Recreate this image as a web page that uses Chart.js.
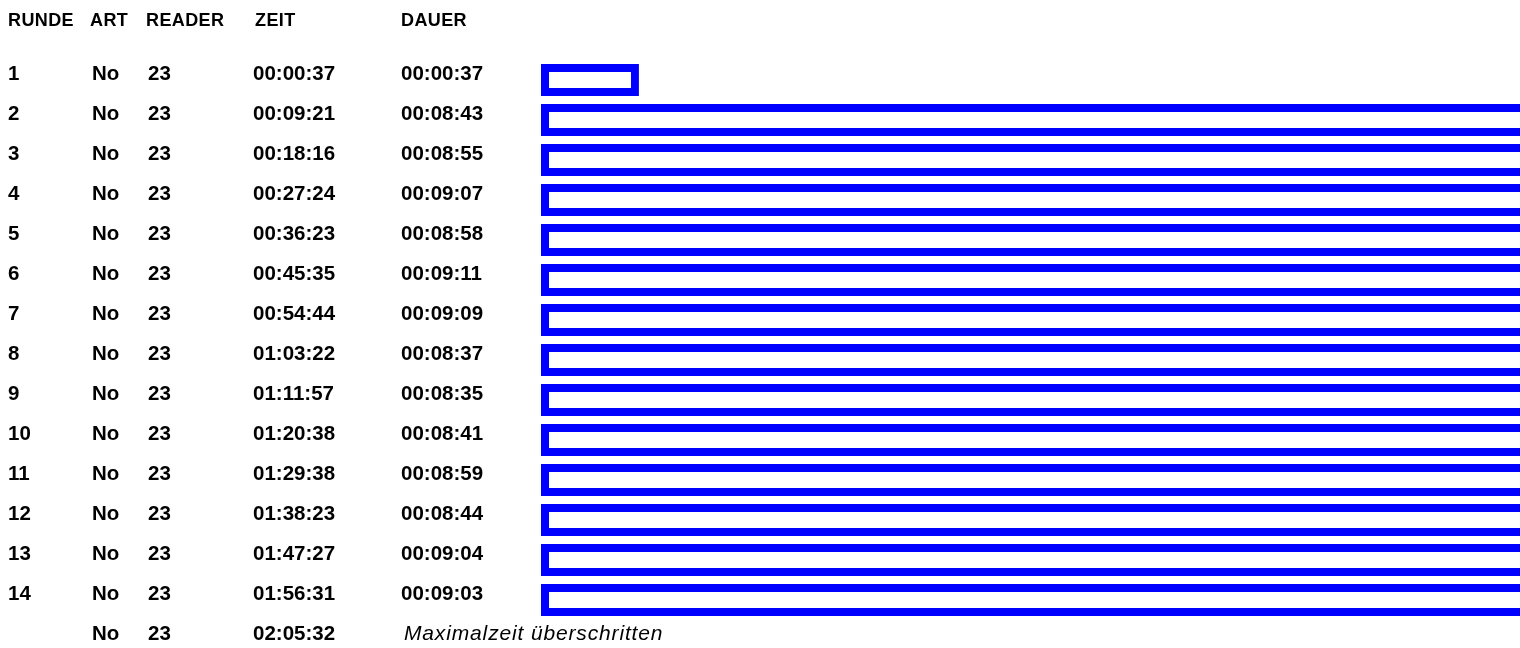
<!DOCTYPE html>
<html lang="de">
<head>
<meta charset="UTF-8">
<title>Runden</title>
<script src="https://cdn.jsdelivr.net/npm/chart.js@4.4.0/dist/chart.umd.min.js"></script>
<style>
  html, body { margin: 0; padding: 0; background: #fff; overflow: hidden; }
  #wrap { position: relative; width: 1520px; height: 660px; }
</style>
</head>
<body>
<div id="wrap"><canvas id="rundenChart"></canvas></div>
<script>
// Tabellendaten
const spalten = ['RUNDE', 'ART', 'READER', 'ZEIT', 'DAUER'];
const runden = ['1', '2', '3', '4', '5', '6', '7', '8', '9', '10', '11', '12', '13', '14', ''];
const art = ['No', 'No', 'No', 'No', 'No', 'No', 'No', 'No', 'No', 'No', 'No', 'No', 'No', 'No', 'No'];
const reader = ['23', '23', '23', '23', '23', '23', '23', '23', '23', '23', '23', '23', '23', '23', '23'];
const zeit = ['00:00:37', '00:09:21', '00:18:16', '00:27:24', '00:36:23', '00:45:35', '00:54:44',
              '01:03:22', '01:11:57', '01:20:38', '01:29:38', '01:38:23', '01:47:27', '01:56:31', '02:05:32'];
const dauer = ['00:00:37', '00:08:43', '00:08:55', '00:09:07', '00:08:58', '00:09:11', '00:09:09',
               '00:08:37', '00:08:35', '00:08:41', '00:08:59', '00:08:44', '00:09:04', '00:09:03', ''];
const hinweis = 'Maximalzeit überschritten';

// "hh:mm:ss" -> Sekunden
function sekunden(t) {
    if (!t) return null;
    const p = t.split(':').map(Number);
    return p[0] * 3600 + p[1] * 60 + p[2];
}
const dauerSek = dauer.map(sekunden);

const kopf = 'bold 18px "Liberation Sans", Arial, sans-serif';
const fett = 'bold 20.5px "Liberation Sans", Arial, sans-serif';
const kursiv = 'italic 21px "Liberation Sans", Arial, sans-serif';

// Textspalten links neben den Balken
const tabelle = {
    id: 'tabelle',
    afterDatasetsDraw(chart) {
        const ctx = chart.ctx;
        const y = chart.scales.y;
        const kopfX = [8, 90, 146, 255, 401];
        const spaltenX = [8, 92, 148, 253, 401];
        ctx.save();
        ctx.fillStyle = '#000';
        ctx.textBaseline = 'middle';
        ctx.font = kopf;
        ctx.letterSpacing = '0.4px';
        spalten.forEach((s, i) => ctx.fillText(s, kopfX[i], y.getPixelForValue(0) - 59));
        ctx.letterSpacing = '0px';
        ctx.font = fett;
        runden.forEach((r, i) => {
            const py = y.getPixelForValue(i) - 6;
            const zeile = [r, art[i], reader[i], zeit[i], dauer[i]];
            zeile.forEach((t, j) => { if (t) ctx.fillText(t, spaltenX[j], py); });
            if (!dauer[i]) {
                ctx.font = kursiv;
                ctx.letterSpacing = '0.85px';
                ctx.fillText(hinweis, spaltenX[4] + 3, py + 0.5);
                ctx.letterSpacing = '0px';
                ctx.font = fett;
            }
        });
        ctx.restore();
    }
};

const ctx = document.getElementById('rundenChart').getContext('2d');
new Chart(ctx, {
    type: 'bar',
    data: {
        labels: runden.map((r, i) => r || 'x' + i),
        datasets: [{
            data: dauerSek,
            backgroundColor: '#ffffff',
            borderColor: '#0000ff',
            borderWidth: 8,
            borderSkipped: false,
            categoryPercentage: 1,
            barPercentage: 0.8
        }]
    },
    options: {
        indexAxis: 'y',
        responsive: true,
        maintainAspectRatio: false,
        animation: false,
        layout: { padding: { left: 541, right: 0, top: 60, bottom: 0 } },
        plugins: { legend: { display: false }, tooltip: { enabled: false } },
        scales: {
            x: { display: false, min: 0, max: 370 },
            y: { display: false }
        }
    },
    plugins: [tabelle]
});
</script>
</body>
</html>
